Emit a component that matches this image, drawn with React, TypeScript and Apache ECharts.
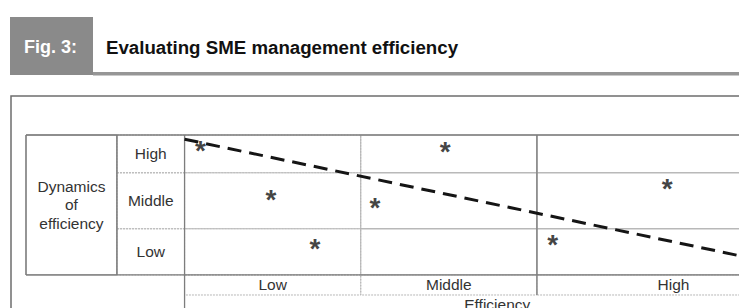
import React, { useEffect, useRef } from "react";
import * as echarts from "echarts";

// ---- data ----
const figLabel = "Fig. 3:";
const figTitle = "Evaluating SME management efficiency";
const rowTitle = "Dynamics\nof\nefficiency";
const colTitle = "Efficiency";
const rows = ["Low", "Middle", "High"];
const rowEdges = [0, 0.33, 0.73, 1];
const columns = ["Low", "Middle", "High"];
const colEdges = [0, 1, 2, 3.55];
const starX = [0.09, 1.48, 0.49, 1.08, 2.74, 0.74, 2.09];
const starY = [0.914, 0.907, 0.564, 0.5, 0.636, 0.207, 0.236];
const trendX = [0, 3.14];
const trendY = [0.97, 0.14];

// ---- layout (data units of the table grid) ----
const X_MIN = -0.9;
const ROWLABEL_LEFT = -0.384;
const AXIS_ROW_BOTTOM = -0.143;
const Y_MIN = -0.286;
const FONT = "'Liberation Sans', Arial, Helvetica, sans-serif";

type Cell = {
  x0: number; x1: number; y0: number; y1: number;
  text?: string; stroke: string; dash?: number[]; lh?: number;
};

function buildCells(): Cell[] {
  const cells: Cell[] = [];
  const xMax = colEdges[colEdges.length - 1];
  for (let c = 0; c < columns.length; c++) {
    for (let r = 0; r < rows.length; r++) {
      cells.push({
        x0: colEdges[c], x1: colEdges[c + 1], y0: rowEdges[r], y1: rowEdges[r + 1],
        stroke: "#b3b3b3", dash: c === 0 ? [2, 1] : undefined,
      });
    }
  }
  for (let r = 0; r < rows.length; r++) {
    cells.push({
      x0: ROWLABEL_LEFT, x1: 0, y0: rowEdges[r], y1: rowEdges[r + 1],
      text: rows[r], stroke: "#b8b8b8", dash: [2, 1],
    });
  }
  cells.push({ x0: X_MIN, x1: ROWLABEL_LEFT, y0: 0, y1: 1, text: rowTitle, stroke: "#888", lh: 18.5 });
  for (let c = 0; c < columns.length; c++) {
    cells.push({
      x0: colEdges[c], x1: colEdges[c + 1], y0: AXIS_ROW_BOTTOM, y1: 0,
      text: columns[c], stroke: "#b8b8b8", dash: [2, 1],
    });
  }
  cells.push({ x0: 0, x1: xMax, y0: Y_MIN, y1: AXIS_ROW_BOTTOM, text: colTitle, stroke: "transparent" });
  return cells;
}

function buildFrame(): number[][] {
  const xMax = colEdges[colEdges.length - 1];
  return [
    [X_MIN, 1, xMax, 1],
    [X_MIN, 0, xMax, 0],
    [X_MIN, 0, X_MIN, 1],
    [ROWLABEL_LEFT, 0, ROWLABEL_LEFT, 1],
    [0, Y_MIN, 0, 1],
    [colEdges[2], AXIS_ROW_BOTTOM, colEdges[2], 1],
  ];
}

export default function App() {
  const ref = useRef<HTMLDivElement>(null);
  useEffect(() => {
    if (!ref.current) return;
    const chart = echarts.init(ref.current, undefined, { renderer: "svg" });
    const cells = buildCells();
    const frame = buildFrame();
    const option: any = {
      animation: false,
      grid: { left: 26, top: 135, width: 784, height: 180 },
      xAxis: { type: "value", min: X_MIN, max: colEdges[colEdges.length - 1], show: false, splitLine: { show: false } },
      yAxis: { type: "value", min: Y_MIN, max: 1, show: false, splitLine: { show: false } },
      graphic: [
        { type: "rect", shape: { x: 11, y: 96, width: 1000, height: 400 }, style: { fill: "none", stroke: "#6e6e6e", lineWidth: 1.5 }, z: 0 },
        { type: "rect", shape: { x: 10, y: 17, width: 83, height: 58 }, style: { fill: "#8a8a8a" } },
        { type: "rect", shape: { x: 93, y: 72, width: 700, height: 3.5 }, style: { fill: "#969696" } },
        { type: "text", x: 24, y: 47, style: { text: figLabel, fill: "#ffffff", font: `bold 18px ${FONT}`, verticalAlign: "middle" } },
        { type: "text", x: 106, y: 47, style: { text: figTitle, fill: "#111111", font: `bold 18.7px ${FONT}`, verticalAlign: "middle" } },
      ],
      series: [
        {
          type: "custom",
          silent: true,
          clip: false,
          data: cells.map((c) => [c.x0, c.y0, c.x1, c.y1]),
          encode: { x: [0, 2], y: [1, 3] },
          renderItem: (params: any, api: any) => {
            const c = cells[params.dataIndex];
            const p0 = api.coord([c.x0, c.y1]);
            const p1 = api.coord([c.x1, c.y0]);
            const el: any = {
              type: "rect",
              shape: { x: p0[0], y: p0[1], width: p1[0] - p0[0], height: p1[1] - p0[1] },
              style: { fill: "none", stroke: c.stroke, lineWidth: 1, lineDash: c.dash },
            };
            if (c.text) {
              el.textContent = {
                type: "text",
                style: {
                  text: c.text, fill: "#333333", fontSize: 15.5, fontFamily: FONT,
                  lineHeight: c.lh || 18, align: "center", verticalAlign: "middle",
                },
              };
              el.textConfig = { position: "inside" };
            }
            return el;
          },
          z: 1,
        },
        {
          type: "custom",
          silent: true,
          clip: false,
          data: frame,
          encode: { x: [0, 2], y: [1, 3] },
          renderItem: (params: any, api: any) => {
            const s = frame[params.dataIndex];
            const a = api.coord([s[0], s[1]]);
            const b = api.coord([s[2], s[3]]);
            return {
              type: "line",
              shape: { x1: a[0], y1: a[1], x2: b[0], y2: b[1] },
              style: { stroke: "#7d7d7d", lineWidth: 1.3 },
            };
          },
          z: 2,
        },
        {
          type: "line",
          data: trendX.map((x, i) => [x, trendY[i]]),
          symbol: "none",
          lineStyle: { color: "#151515", width: 3, type: [14, 8] },
          silent: true,
          z: 3,
        },
        {
          type: "scatter",
          data: starX.map((x, i) => [x, starY[i]]),
          symbolSize: 1,
          itemStyle: { color: "transparent" },
          label: {
            show: true, formatter: "*", position: "inside",
            fontSize: 28, fontWeight: "bold", color: "#111111", fontFamily: FONT, offset: [0, 3],
          },
          silent: true,
          z: 4,
        },
      ],
    };
    chart.setOption(option);
    return () => chart.dispose();
  }, []);
  return (
    <div style={{ position: "fixed", left: 0, top: 0, width: 739, height: 308, overflow: "hidden", background: "#fff" }}>
      <div ref={ref} style={{ width: 830, height: 330 }} />
    </div>
  );
}
